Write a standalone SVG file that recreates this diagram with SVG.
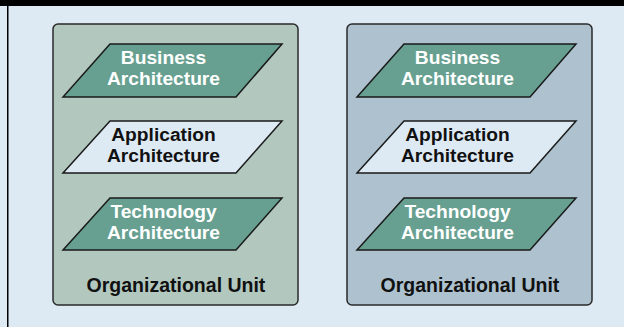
<svg xmlns="http://www.w3.org/2000/svg" width="624" height="327" viewBox="0 0 624 327">
<style>
.unit{stroke:#2a2a2a;stroke-width:1.5}
.para{stroke:#1a1a1a;stroke-width:1.5}
.dark{fill:#67a091}
.light{fill:#ddeaf4}
text{font-family:"Liberation Sans",Arial,sans-serif;font-weight:bold;font-size:19.2px;text-anchor:middle}
.org{font-size:19.5px}
.w{fill:#ffffff}
.b{fill:#111111}
</style>
<rect x="0" y="0" width="624" height="327" fill="#ddeaf4"/>
<rect x="0" y="0" width="624" height="6" fill="#000000"/>
<rect x="7" y="6" width="1.5" height="321" fill="#000000"/>
<g id="unit-left">
<rect class="unit" x="53" y="24" width="245" height="281" rx="5" fill="#b2c8bf"/>
<g id="business-left">
<polygon class="para dark" points="110,44 282,44 236,97 63,97"/>
<text class="w" x="163.5" y="64">Business</text>
<text class="w" x="163.5" y="85">Architecture</text>
</g>
<g id="application-left">
<polygon class="para light" points="110,121 282,121 236,173 63,173"/>
<text class="b" x="163.5" y="141">Application</text>
<text class="b" x="163.5" y="162">Architecture</text>
</g>
<g id="technology-left">
<polygon class="para dark" points="110,198 282,198 236,250 63,250"/>
<text class="w" x="163.5" y="218">Technology</text>
<text class="w" x="163.5" y="239">Architecture</text>
</g>
<text class="b org" x="176" y="292">Organizational Unit</text>
</g>
<g id="unit-right">
<rect class="unit" x="347" y="24" width="245" height="281" rx="5" fill="#adc2ce"/>
<g id="business-right">
<polygon class="para dark" points="404,44 576,44 530,97 357,97"/>
<text class="w" x="457.5" y="64">Business</text>
<text class="w" x="457.5" y="85">Architecture</text>
</g>
<g id="application-right">
<polygon class="para light" points="404,121 576,121 530,173 357,173"/>
<text class="b" x="457.5" y="141">Application</text>
<text class="b" x="457.5" y="162">Architecture</text>
</g>
<g id="technology-right">
<polygon class="para dark" points="404,198 576,198 530,250 357,250"/>
<text class="w" x="457.5" y="218">Technology</text>
<text class="w" x="457.5" y="239">Architecture</text>
</g>
<text class="b org" x="470" y="292">Organizational Unit</text>
</g>
<g id="connectors"/>
</svg>
